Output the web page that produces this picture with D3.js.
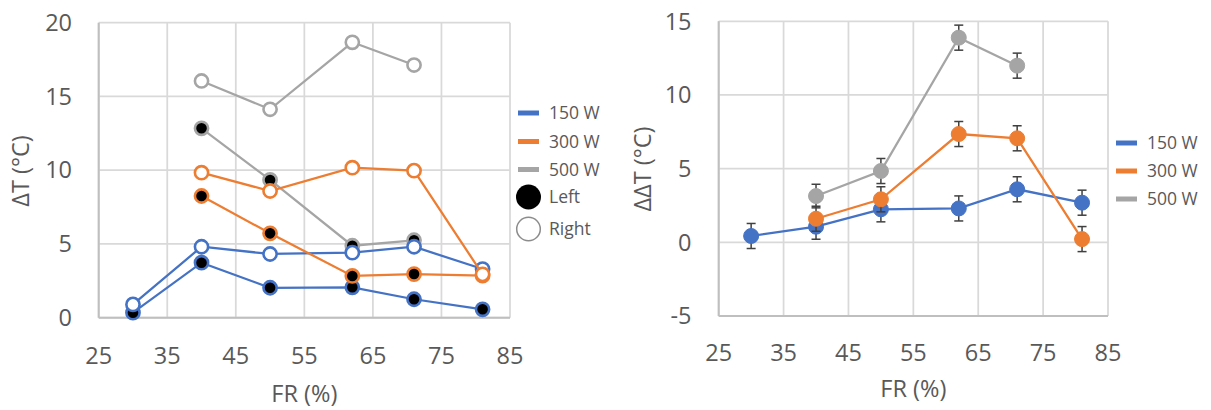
<!DOCTYPE html>
<html>
<head>
<meta charset="utf-8">
<script src="https://cdn.jsdelivr.net/npm/d3@7"></script>
<style>
  html, body { margin: 0; padding: 0; background: #fff; }
  svg { display: block; }
  text { font-family: "Open Sans", sans-serif; fill: #595959; }
</style>
</head>
<body>
<svg id="chart" width="1211" height="410"></svg>
<script>
// ---------- DATA ----------
const fr = [30, 40, 50, 62, 71, 81];
const xTicks = [25, 35, 45, 55, 65, 75, 85];

// Left panel: ΔT (°C)
const leftYTicks = [0, 5, 10, 15, 20];
const dT150Left  = [0.34, 3.73, 2.03, 2.06, 1.25, 0.57];
const dT150Right = [0.90, 4.81, 4.32, 4.41, 4.81, 3.30];
const dT300Left  = [null, 8.25, 5.72, 2.83, 2.96, 2.85];
const dT300Right = [null, 9.83, 8.59, 10.17, 9.97, 2.94];
const dT500Left  = [null, 12.84, 9.34, 4.88, 5.25, null];
const dT500Right = [null, 16.05, 14.13, 18.67, 17.13, null];

// Right panel: ΔΔT (°C) with error bars
const rightYTicks = [-5, 0, 5, 10, 15];
const ddT150 = [0.43, 1.06, 2.24, 2.30, 3.60, 2.69];
const ddT300 = [null, 1.60, 2.92, 7.35, 7.06, 0.22];
const ddT500 = [null, 3.14, 4.84, 13.89, 11.99, null];
const err150 = [0.85, 0.85, 0.85, 0.85, 0.85, 0.85];
const err300 = [null, 0.85, 0.85, 0.85, 0.85, 0.85];
const err500 = [null, 0.80, 0.85, 0.85, 0.85, null];

const seriesNames = ["150 W", "300 W", "500 W"];
const colors = { "150 W": "#4472C4", "300 W": "#ED7D31", "500 W": "#A5A5A5" };
const sideNames = ["Left", "Right"];

// ---------- DRAW ----------
const svg = d3.select("#chart");
svg.append("rect").attr("width", 1211).attr("height", 410).attr("fill", "#fff");

const FS = 23.5;
const LFS = 17.5;

function panel(cfg) {
  const g = svg.append("g");
  const x = d3.scaleLinear().domain([25, 85]).range([cfg.x0, cfg.x1]);
  const y = d3.scaleLinear().domain(cfg.yDomain).range([cfg.y1, cfg.y0]);

  g.append("g").selectAll("line").data(xTicks).join("line")
    .attr("x1", d => x(d)).attr("x2", d => x(d))
    .attr("y1", cfg.y0).attr("y2", cfg.y1)
    .attr("stroke", "#d9d9d9").attr("stroke-width", 1.75);
  g.append("g").selectAll("line").data(cfg.yTicks).join("line")
    .attr("x1", cfg.x0).attr("x2", cfg.x1)
    .attr("y1", d => y(d)).attr("y2", d => y(d))
    .attr("stroke", "#d9d9d9").attr("stroke-width", 1.75);
  g.append("line").attr("x1", cfg.x0).attr("x2", cfg.x0).attr("y1", cfg.y0).attr("y2", cfg.y1)
    .attr("stroke", "#bfbfbf").attr("stroke-width", 2);
  g.append("line").attr("x1", cfg.x0).attr("x2", cfg.x1).attr("y1", cfg.y1).attr("y2", cfg.y1)
    .attr("stroke", "#bfbfbf").attr("stroke-width", 2);

  g.append("g").selectAll("text").data(cfg.yTicks).join("text")
    .attr("x", cfg.yLabelX).attr("y", d => y(d)).attr("dy", "0.35em")
    .attr("text-anchor", "end").attr("font-size", FS).text(d => d);
  g.append("g").selectAll("text").data(xTicks).join("text")
    .attr("x", d => x(d)).attr("y", cfg.xLabelY)
    .attr("text-anchor", "middle").attr("font-size", FS).text(d => d);

  g.append("text").attr("x", (cfg.x0 + cfg.x1) / 2).attr("y", cfg.xTitleY)
    .attr("text-anchor", "middle").attr("font-size", FS).text("FR (%)");
  g.append("text")
    .attr("transform", `translate(${cfg.yTitleX},${cfg.yTitleY}) rotate(-90)`)
    .attr("text-anchor", "middle").attr("font-size", FS).text(cfg.yTitle);

  return { g, x, y };
}

function pts(vals, errs) {
  return fr.map((f, i) => ({ f, v: vals[i], e: errs ? errs[i] : null })).filter(d => d.v != null);
}

// ----- Left panel -----
const L = panel({
  x0: 98.7, x1: 510, y0: 22.7, y1: 317.7, yDomain: [0, 20], yTicks: leftYTicks,
  yLabelX: 72, xLabelY: 364, xTitleY: 402,
  yTitle: "ΔT (°C)", yTitleX: 29, yTitleY: 171
});
const lineL = d3.line().x(d => L.x(d.f)).y(d => L.y(d.v));
const leftSeries = [
  { name: "500 W", side: "Left", vals: dT500Left },
  { name: "500 W", side: "Right", vals: dT500Right },
  { name: "150 W", side: "Left", vals: dT150Left },
  { name: "150 W", side: "Right", vals: dT150Right },
  { name: "300 W", side: "Left", vals: dT300Left },
  { name: "300 W", side: "Right", vals: dT300Right }
];
leftSeries.forEach(s => {
  const p = pts(s.vals);
  L.g.append("path").datum(p).attr("d", lineL)
    .attr("fill", "none").attr("stroke", colors[s.name]).attr("stroke-width", 2.25);
  L.g.append("g").selectAll("circle").data(p).join("circle")
    .attr("cx", d => L.x(d.f)).attr("cy", d => L.y(d.v)).attr("r", 6.6)
    .attr("fill", s.side === "Left" ? "#000" : "#fff")
    .attr("stroke", colors[s.name]).attr("stroke-width", 2.6);
});

// Left legend
const legL = svg.append("g");
seriesNames.forEach((n, i) => {
  const yy = [113, 141.5, 169.5][i];
  legL.append("line").attr("x1", 518).attr("x2", 539).attr("y1", yy).attr("y2", yy)
    .attr("stroke", colors[n]).attr("stroke-width", 5);
  legL.append("text").attr("x", 549).attr("y", yy).attr("dy", "0.35em")
    .attr("font-size", LFS).text(n);
});
sideNames.forEach((n, i) => {
  const yy = [197, 229][i];
  legL.append("circle").attr("cx", 528.5).attr("cy", yy).attr("r", n === "Left" ? 12.5 : 11.8)
    .attr("fill", n === "Left" ? "#000" : "#fff")
    .attr("stroke", n === "Left" ? "#000" : "#8c8c8c").attr("stroke-width", n === "Left" ? 0 : 1.5);
  legL.append("text").attr("x", 549).attr("y", yy).attr("dy", "0.35em")
    .attr("font-size", LFS).text(n);
});

// ----- Right panel -----
const R = panel({
  x0: 718.7, x1: 1108, y0: 21.3, y1: 316, yDomain: [-5, 15], yTicks: rightYTicks,
  yLabelX: 691.5, xLabelY: 361, xTitleY: 397,
  yTitle: "ΔΔT (°C)", yTitleX: 651, yTitleY: 169
});
const lineR = d3.line().x(d => R.x(d.f)).y(d => R.y(d.v));
const rightSeries = [
  { name: "150 W", vals: ddT150, errs: err150 },
  { name: "300 W", vals: ddT300, errs: err300 },
  { name: "500 W", vals: ddT500, errs: err500 }
];
rightSeries.forEach(s => {
  const p = pts(s.vals, s.errs);
  R.g.append("path").datum(p).attr("d", lineR)
    .attr("fill", "none").attr("stroke", colors[s.name]).attr("stroke-width", 2.25);
  const eb = R.g.append("g").attr("stroke", "#404040").attr("stroke-width", 1.5);
  p.forEach(d => {
    const cx = R.x(d.f), t = R.y(d.v + d.e), b = R.y(d.v - d.e);
    eb.append("line").attr("x1", cx).attr("x2", cx).attr("y1", t).attr("y2", b);
    eb.append("line").attr("x1", cx - 4.5).attr("x2", cx + 4.5).attr("y1", t).attr("y2", t);
    eb.append("line").attr("x1", cx - 4.5).attr("x2", cx + 4.5).attr("y1", b).attr("y2", b);
  });
  R.g.append("g").selectAll("circle").data(p).join("circle")
    .attr("cx", d => R.x(d.f)).attr("cy", d => R.y(d.v)).attr("r", 7.5)
    .attr("fill", colors[s.name]).attr("stroke", colors[s.name]).attr("stroke-width", 1);
});

// Right legend
const legR = svg.append("g");
seriesNames.forEach((n, i) => {
  const yy = [143, 171, 199][i];
  legR.append("line").attr("x1", 1116).attr("x2", 1137).attr("y1", yy).attr("y2", yy)
    .attr("stroke", colors[n]).attr("stroke-width", 5);
  legR.append("text").attr("x", 1147).attr("y", yy).attr("dy", "0.35em")
    .attr("font-size", LFS).text(n);
});
</script>
</body>
</html>
